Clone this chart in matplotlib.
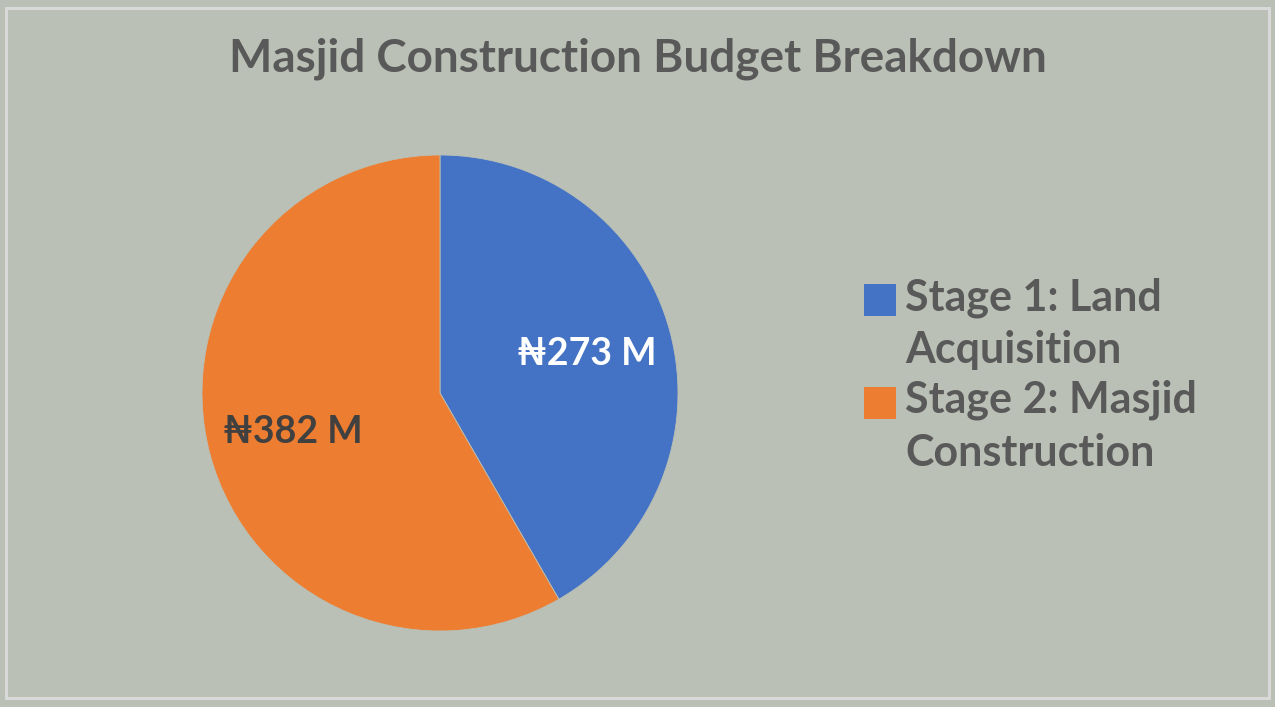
import numpy as np
import matplotlib.pyplot as plt
from matplotlib.patches import Rectangle, Patch
from matplotlib.legend_handler import HandlerPatch

# datos
etapas = ['Stage 1: Land\nAcquisition', 'Stage 2: Masjid\nConstruction']
montos = [273, 382]  # millones de naira
etiquetas = ['\u20a6273 M', '\u20a6382 M']
colores = ['#4472C4', '#ED7D31']
color_etiqueta = ['white', '#404040']

plt.rcParams['font.family'] = ['Lato', 'DejaVu Sans']
fondo = '#BAC0B5'
gris = '#595959'

W, H = 1275, 707
fig = plt.figure(figsize=(W / 100, H / 100), dpi=100, facecolor=fondo)

# marco claro alrededor
fig.patches.append(Rectangle((6 / W, 1 - 698 / H), 1263 / W, 690 / H,
                             transform=fig.transFigure, fill=False,
                             edgecolor='#D9D9D9', linewidth=2.2))

# torta: centro (440, 393), radio 238 px
cx, cy, r = 440, 393, 238
ax = fig.add_axes([(cx - r) / W, 1 - (cy + r) / H, 2 * r / W, 2 * r / H])
ax.set_facecolor(fondo)
cunas, textos = ax.pie(montos, colors=colores, startangle=90, counterclock=False,
                       wedgeprops=dict(linewidth=0.6, edgecolor=fondo))
ax.set_xlim(-1, 1)
ax.set_ylim(-1, 1)
ax.axis('off')

for cuna, txt, col in zip(cunas, etiquetas, color_etiqueta):
    ang = np.deg2rad((cuna.theta1 + cuna.theta2) / 2)
    ax.text(0.64 * np.cos(ang), 0.64 * np.sin(ang), txt, ha='center', va='center',
            fontsize=27, fontweight='bold', color=col)

fig.text(0.5, 1 - 59 / H, 'Masjid Construction Budget Breakdown', ha='center',
         va='center', fontsize=33, fontweight='bold', color=gris)


# el cuadrado de la leyenda va a la altura de la primera linea
def cuadrado_arriba(legend, orig_handle, xdescent, ydescent, width, height, fontsize):
    return Rectangle((-xdescent, -ydescent + 0.58 * fontsize), width, height)


handles = [Patch(facecolor=c, edgecolor='none') for c in colores]
leg = fig.legend(handles, etapas, loc='upper left',
                 bbox_to_anchor=(864 / W, 1 - 277 / H), frameon=False,
                 fontsize=31, handlelength=0.75, handleheight=0.75,
                 handletextpad=0.2, labelspacing=0.23, borderpad=0,
                 borderaxespad=0,
                 handler_map={Patch: HandlerPatch(patch_func=cuadrado_arriba)})
for t in leg.get_texts():
    t.set_color(gris)
    t.set_fontweight('bold')
    t.set_linespacing(1.38)

fig.savefig('out.png', dpi=100, facecolor=fondo)
